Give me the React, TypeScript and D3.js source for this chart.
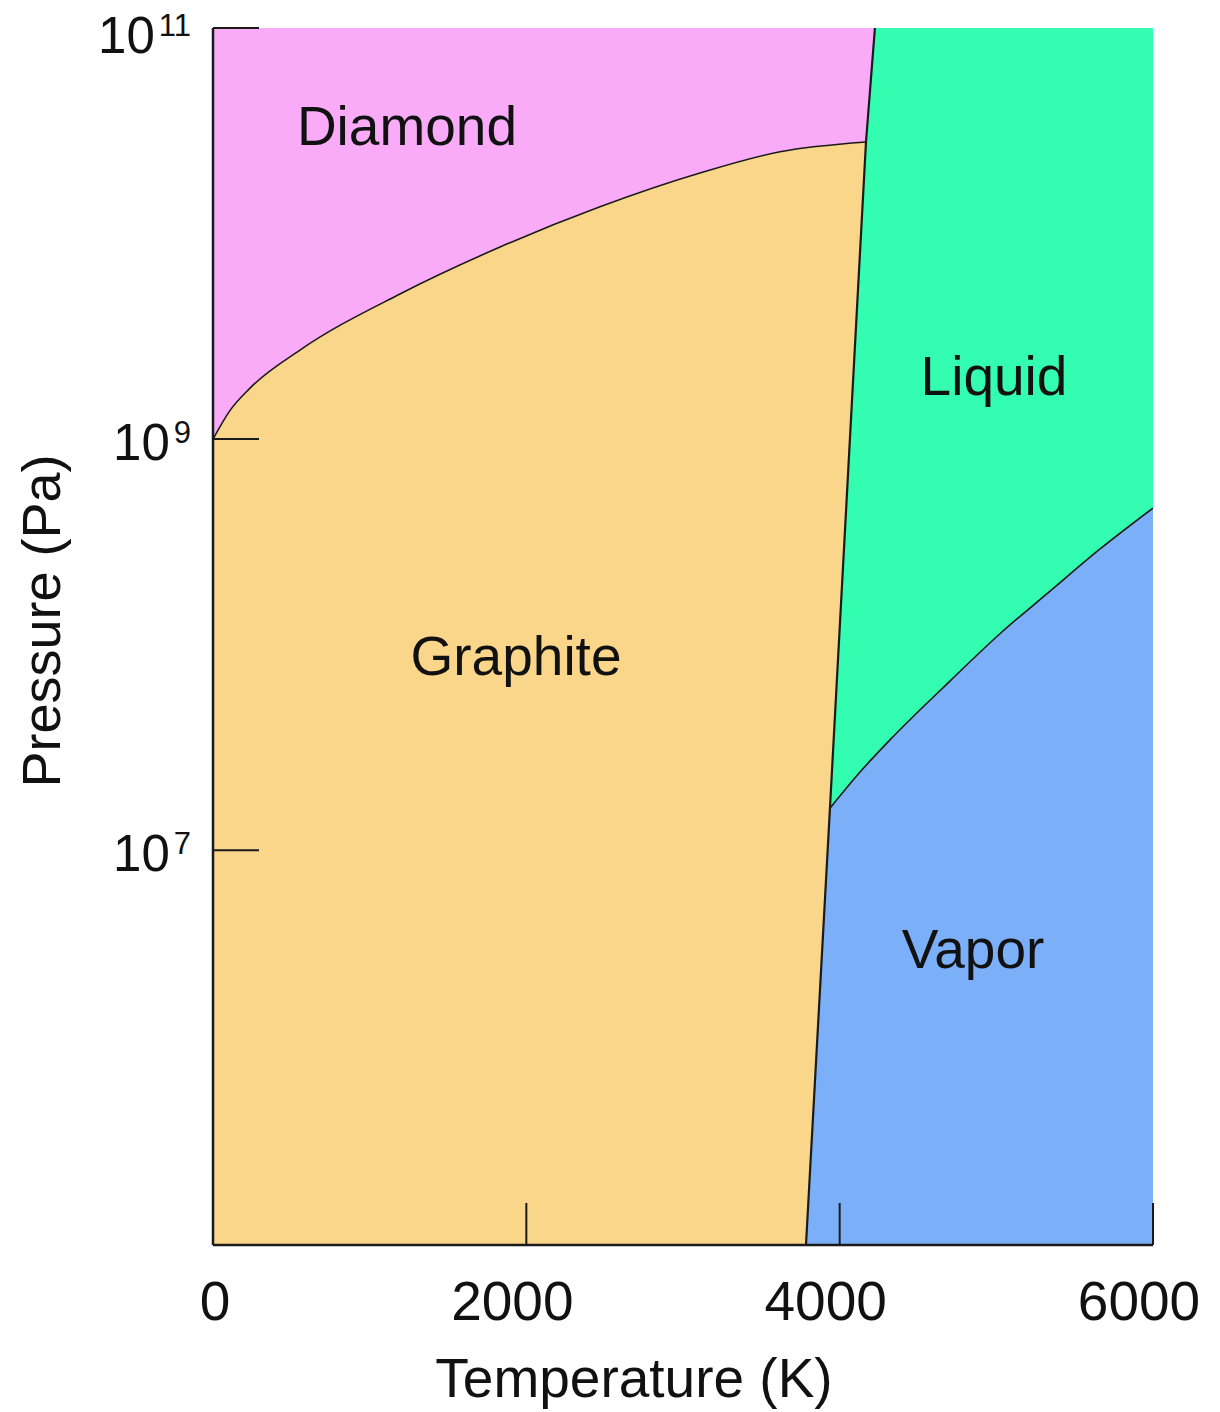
import React from "react";
import * as d3 from "d3";

// Temperature (K) and pressure (Pa) points of the phase boundaries
const graphiteDiamondT = [0, 109, 236, 555, 1193, 1832, 2470, 3108, 3619, 4168];
const graphiteDiamondP = [1.0e9, 1.38e9, 1.77e9, 2.71e9, 5.08e9, 8.6e9, 1.35e10, 1.97e10, 2.5e10, 2.79e10];

const meltingT = [3785, 3938, 4168, 4225];
const meltingP = [1.2e5, 1.6e7, 2.79e10, 1.0e11];

const vaporT = [3938, 4130, 4321, 4704, 5023, 5343, 5662, 6000];
const vaporP = [1.6e7, 2.4e7, 3.44e7, 6.65e7, 1.13e8, 1.82e8, 2.92e8, 4.62e8];

const xTicks = [0, 2000, 4000, 6000];
const xTickLabels = ["0", "2000", "4000", "6000"];
const yTicks = [1e11, 1e9, 1e7];
const yTickExponents = ["11", "9", "7"];

const regionNames = ["Diamond", "Graphite", "Liquid", "Vapor"];
const regionLabelT = [1238, 1934, 4985, 4851];
const regionLabelP = [2.7e10, 7.1e7, 1.64e9, 2.67e6];

const T_MIN = 0, T_MAX = 6000;
const P_MIN = 1.2e5, P_MAX = 1e11;

type Pt = [number, number];
const zip = (a: number[], b: number[]): Pt[] => a.map((v, i) => [v, b[i]]);

export default function App() {
  const left = 213, right = 1153, top = 28, bottom = 1245;
  const x = d3.scaleLinear().domain([T_MIN, T_MAX]).range([left, right]);
  const y = d3.scaleLog().domain([P_MIN, P_MAX]).range([bottom, top]);

  const gd = zip(graphiteDiamondT, graphiteDiamondP);
  const melt = zip(meltingT, meltingP);
  const vap = zip(vaporT, vaporP);

  const curved = d3.line<Pt>().x(d => x(d[0])).y(d => y(d[1])).curve(d3.curveMonotoneX);
  const straight = d3.line<Pt>().x(d => x(d[0])).y(d => y(d[1]));
  const cont = (s: string | null) => (s || "").replace(/^M/, "L");

  const triple1 = melt[2]; // graphite-diamond-liquid
  const triple2 = melt[1]; // graphite-liquid-vapor
  const meltTop = melt[3];
  const meltBot = melt[0];

  const diamondPath =
    straight([[T_MIN, P_MAX], meltTop, triple1])! +
    cont(curved(gd.slice().reverse())) + "Z";
  const graphitePath =
    curved(gd)! +
    cont(straight([triple1, triple2, meltBot, [T_MIN, P_MIN]])) + "Z";
  const liquidPath =
    straight([meltTop, [T_MAX, P_MAX], vap[vap.length - 1]])! +
    cont(curved(vap.slice().reverse())) +
    cont(straight([triple2, triple1])) + "Z";
  const vaporPath =
    curved(vap)! +
    cont(straight([[T_MAX, P_MIN], meltBot, triple2])) + "Z";

  const colors = ["#f9abf8", "#f9d68a", "#33fdb0", "#7bb0f9"];
  const paths = [diamondPath, graphitePath, liquidPath, vaporPath];
  const font = "'Liberation Sans', Arial, Helvetica, sans-serif";
  const ink = "#1a1a1a";

  return (
    <svg width={1220} height={1412} style={{ position: "absolute", left: 0, top: 0, background: "#fff" }}
      fontFamily={font}>
      {paths.map((p, i) => (
        <path key={regionNames[i]} d={p} fill={colors[i]} stroke="none" />
      ))}
      {/* boundaries */}
      <path d={curved(gd)!} fill="none" stroke={ink} strokeWidth={1.6} />
      <path d={straight(melt)!} fill="none" stroke={ink} strokeWidth={2.2} />
      <path d={curved(vap)!} fill="none" stroke={ink} strokeWidth={1.6} />

      {/* axes */}
      <line x1={left} x2={left} y1={top} y2={bottom} stroke={ink} strokeWidth={2.5} />
      <line x1={left} x2={right} y1={bottom} y2={bottom} stroke={ink} strokeWidth={2.5} />
      {yTicks.map(t => (
        <line key={"yt" + t} x1={left} x2={left + 46} y1={y(t)} y2={y(t)} stroke={ink} strokeWidth={2} />
      ))}
      {xTicks.filter(t => t > 0).map(t => (
        <line key={"xt" + t} x1={x(t)} x2={x(t)} y1={bottom} y2={bottom - 42} stroke={ink} strokeWidth={2} />
      ))}

      {/* tick labels */}
      {xTicks.map((t, i) => (
        <text key={"xl" + t} x={x(t) + (xTickLabels[i].length > 1 ? -14 : 2)} y={1320}
          textAnchor="middle" fontSize={55} fill="#111">{xTickLabels[i]}</text>
      ))}
      {yTicks.map((t, i) => (
        <text key={"yl" + t} x={191} y={Math.max(y(t) + 21, 53)} textAnchor="end" fontSize={51} fill="#111">
          <tspan>10</tspan>
          <tspan dy={-17} dx={4} fontSize={31}>{yTickExponents[i]}</tspan>
        </text>
      ))}

      {/* axis titles */}
      <text x={634} y={1397} textAnchor="middle" fontSize={55} fill="#111">Temperature (K)</text>
      <text transform="translate(60,621) rotate(-90)" textAnchor="middle" fontSize={54} fill="#111">Pressure (Pa)</text>

      {/* region labels */}
      {regionNames.map((n, i) => (
        <text key={n} x={x(regionLabelT[i])} y={y(regionLabelP[i])} textAnchor="middle" fontSize={55} fill="#111">{n}</text>
      ))}
    </svg>
  );
}
